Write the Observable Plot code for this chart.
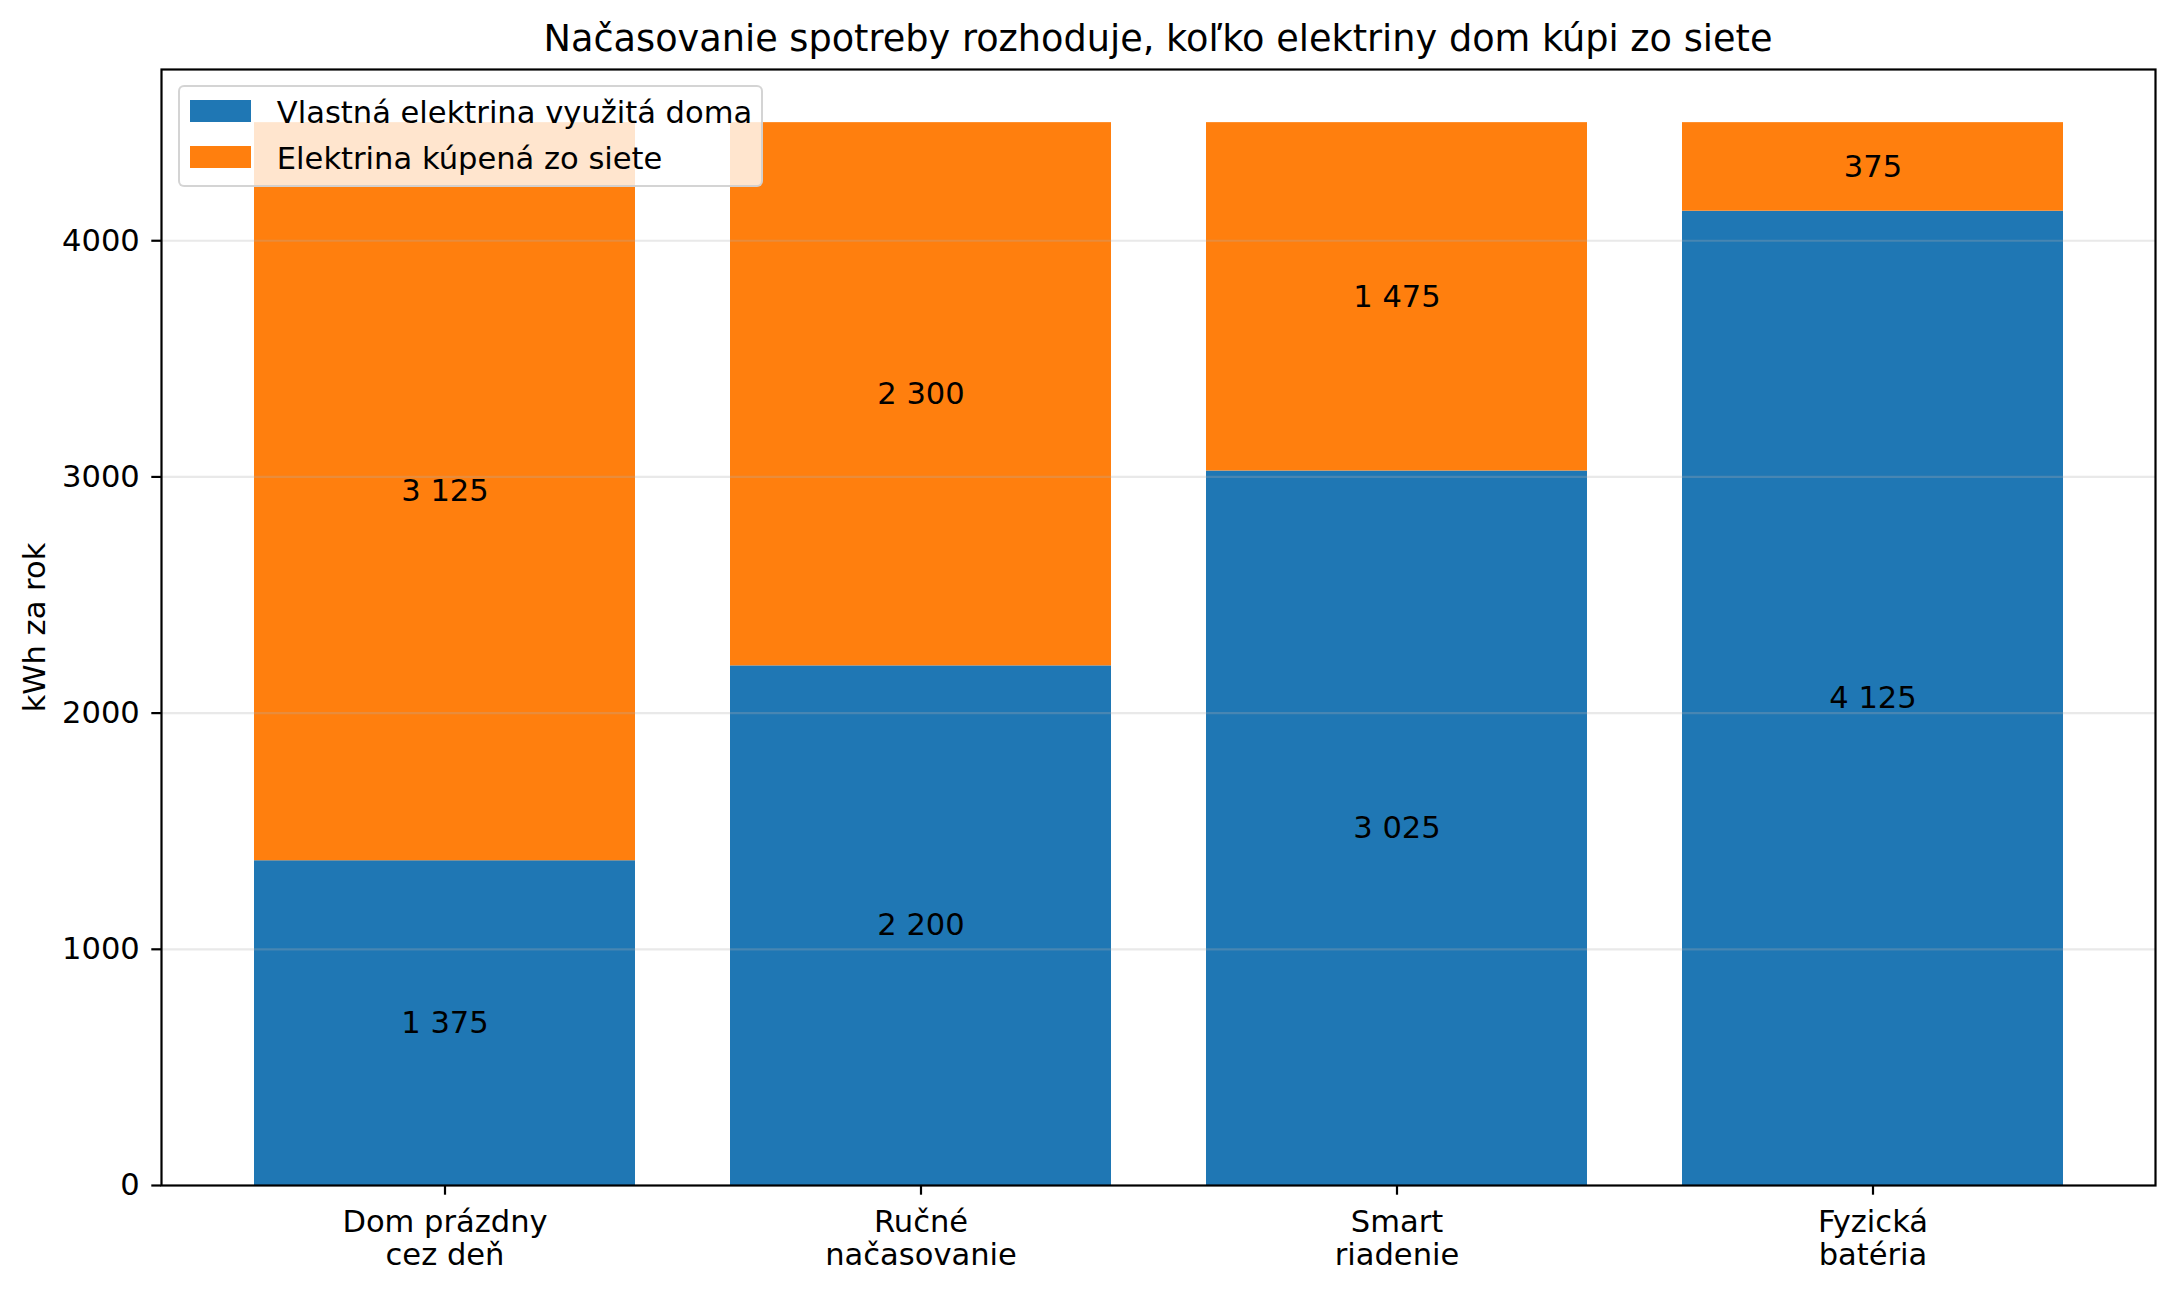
<!DOCTYPE html>
<html>
<head>
<meta charset="utf-8">
<script src="https://cdn.jsdelivr.net/npm/d3@7"></script>
<script src="https://cdn.jsdelivr.net/npm/@observablehq/plot@0.6"></script>
<style>
  html, body { margin: 0; padding: 0; background: #fff; }
  #wrap { position: relative; width: 2176px; height: 1292px; font-family: "DejaVu Sans", sans-serif; color: #000; }
  #title { position: relative; height: 62px; margin-left: 161px; width: 1994px; text-align: center; font-size: 36.67px; line-height: 78.6px; white-space: nowrap; }
  #chart svg { display: block; }
  #legend { position: absolute; left: 178.3px; top: 85px; width: 585px; height: 101.5px; box-sizing: border-box; background: rgba(255,255,255,0.8); border: 2px solid rgba(204,204,204,0.85); border-radius: 6px; }
  .sw { position: absolute; left: 9.6px; width: 61px; height: 21.5px; }
  .lt { position: absolute; left: 96.5px; font-size: 30.56px; line-height: 30.56px; white-space: nowrap; }
</style>
</head>
<body>
<div id="wrap">
  <div id="title"></div>
  <div id="chart"></div>
  <div id="legend"></div>
</div>
<script>
const chartTitle = "Načasovanie spotreby rozhoduje, koľko elektriny dom kúpi zo siete";
const categories = ["Dom prázdny\ncez deň", "Ručné\nnačasovanie", "Smart\nriadenie", "Fyzická\nbatéria"];
const seriesNames = ["Vlastná elektrina využitá doma", "Elektrina kúpená zo siete"];
const seriesColors = ["#1f77b4", "#ff7f0e"];
const ownUse = [1375, 2200, 3025, 4125];
const gridBought = [3125, 2300, 1475, 375];
const yTicks = [0, 1000, 2000, 3000, 4000];
const yLabel = "kWh za rok";

const rows = [];
categories.forEach((c, i) => rows.push({cat: c, series: seriesNames[0], value: ownUse[i]}));
categories.forEach((c, i) => rows.push({cat: c, series: seriesNames[1], value: gridBought[i]}));

const fmt = v => String(v).replace(/\B(?=(\d{3})+(?!\d))/g, " ");

document.getElementById("title").textContent = chartTitle;

const FS = 30.56;

const plot = Plot.plot({
  width: 2176,
  height: 1230,
  marginTop: 7,
  marginBottom: 107,
  marginLeft: 161,
  marginRight: 21,
  style: {fontFamily: "DejaVu Sans", fontSize: FS + "px", color: "#000", background: "#fff", overflow: "visible"},
  x: {domain: categories, paddingInner: 0.2, paddingOuter: 0.192, align: 0.5, label: null},
  y: {domain: [0, 4725], label: null},
  color: {domain: seriesNames, range: seriesColors},
  marks: [
    Plot.barY(rows, {x: "cat", y: "value", fill: "series"}),
    Plot.ruleY(yTicks.slice(1), {stroke: "#b0b0b0", strokeOpacity: 0.28, strokeWidth: 2.2}),
    Plot.text(rows, Plot.stackY({x: "cat", y: "value", z: "series", text: d => fmt(d.value), fill: "#000", fontSize: FS})),
    Plot.frame({stroke: "#000", strokeWidth: 2.2}),
    Plot.axisY({ticks: yTicks, tickSize: 9.7, tickPadding: 12, strokeWidth: 2.2, label: null, tickFormat: d => String(d), fontSize: FS}),
    Plot.axisX({tickSize: 9.7, tickPadding: 13, strokeWidth: 2.2, label: null, lineHeight: 1.085, fontSize: FS}),
    Plot.text([yLabel], {frameAnchor: "left", textAnchor: "middle", lineAnchor: "middle", rotate: -90, dx: -126, fontSize: FS, fill: "#000"})
  ]
});
document.getElementById("chart").appendChild(plot);

const legend = document.getElementById("legend");
seriesNames.forEach((name, i) => {
  const sw = document.createElement("div");
  sw.className = "sw";
  sw.style.top = (13 + i * 46) + "px";
  sw.style.background = seriesColors[i];
  legend.appendChild(sw);
  const t = document.createElement("div");
  t.className = "lt";
  t.style.top = (10.8 + i * 46) + "px";
  t.textContent = name;
  legend.appendChild(t);
});
</script>
</body>
</html>
